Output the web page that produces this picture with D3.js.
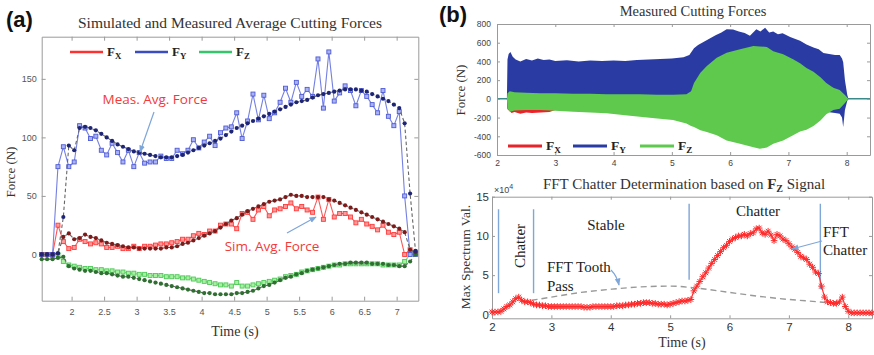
<!DOCTYPE html>
<html><head><meta charset="utf-8">
<script src="https://cdn.jsdelivr.net/npm/d3@7"></script>
<style>body{margin:0;background:#fff}svg{display:block}</style>
</head><body>
<svg id="c" width="874" height="355"></svg>
<script>
// ---------- (a) average cutting forces, sampled every 1/12 s ----------
const timeA = [1.540,1.623,1.707,1.790,1.873,1.957,2.040,2.123,2.207,2.290,2.373,2.457,2.540,2.623,2.707,2.790,2.873,2.957,3.040,3.123,3.207,3.290,3.373,3.457,3.540,3.623,3.707,3.790,3.873,3.957,4.040,4.123,4.207,4.290,4.373,4.457,4.540,4.623,4.707,4.790,4.873,4.957,5.040,5.123,5.207,5.290,5.373,5.457,5.540,5.623,5.707,5.790,5.873,5.957,6.040,6.123,6.207,6.290,6.373,6.457,6.540,6.623,6.707,6.790,6.873,6.957,7.040,7.123,7.207,7.290];
const measFx = [0,0,0,25,11,5,6,13,11,9,10,9,6,6,7,5,5,7,5,7,7,8,9,9,10,11,13,13,16,18,17,20,20,25,26,26,22,35,36,30,38,41,33,38,39,41,44,39,41,38,36,49,30,47,32,35,35,32,27,30,26,24,21,25,19,17,19,0,4,1];
const measFy = [0,0,0,75,92,75,79,110,108,99,101,89,85,95,87,79,89,75,87,78,79,79,84,82,82,89,86,89,98,91,96,101,93,104,108,109,121,99,114,137,115,136,116,121,130,142,130,147,135,141,135,167,125,173,131,138,144,140,127,140,135,128,121,140,118,110,122,50,0,0];
const measFz = [0,0,-1,0,-6,-9,-10,-11,-12,-12,-13,-13,-14,-14,-15,-15,-16,-16,-17,-17,-18,-18,-18,-19,-19,-19,-20,-20,-21,-22,-23,-24,-25,-26,-26,-27,-24,-27,-27,-26,-25,-24,-23,-22,-21,-19,-18,-17,-15,-14,-13,-12,-11,-10,-9,-9,-8,-8,-8,-8,-8,-8,-8,-9,-9,-9,-9,-6,0,2];
const simFx = [0,0,0,1,15,18,13,14,17,15,14,12,10,9,8,7,6,6,5,5,5,5,5,6,6,7,9,10,12,14,16,18,20,23,26,29,31,34,37,39,41,43,45,46,47,49,51,50,50,49,49,49,49,47,46,44,42,40,38,36,34,32,30,28,26,24,22,19,4,2];
const simFy = [0,0,0,1,32,93,89,108,109,108,106,103,100,97,94,92,90,88,87,86,85,84,83,83,83,84,85,87,89,91,93,95,97,99,102,105,108,110,112,114,116,118,120,122,124,126,128,130,131,132,134,136,137,138,139,140,141,141,141,140,139,137,135,133,131,128,125,112,52,3];
const simFz = [-4,-4,-4,-3,-2,-10,-12,-13,-14,-14,-15,-16,-16,-17,-18,-19,-19,-20,-21,-22,-23,-24,-25,-26,-27,-28,-29,-30,-31,-32,-33,-33,-34,-34,-34,-34,-33,-33,-32,-31,-29,-27,-26,-24,-22,-20,-19,-17,-16,-14,-13,-12,-11,-10,-9,-8,-8,-7,-7,-7,-7,-8,-8,-8,-9,-9,-10,-10,-6,0];
const ticksAx = [2,2.5,3,3.5,4,4.5,5,5.5,6,6.5,7];
const ticksAy = [0,50,100,150];

// ---------- (b) measured force envelopes ----------
const fxTime = [2.17,2.18,2.25,2.30,2.40,2.50,2.60,2.75,2.90,3.00,5.00,7.90,7.97,8.02];
const fxHigh = [0,30,40,40,40,40,40,40,40,40,40,40,60,0];
const fxLow  = [0,-110,-150,-140,-160,-145,-150,-145,-140,-120,-120,-100,-60,0];
const fyTime = [2.00,2.17,2.18,2.20,2.23,2.27,2.32,2.40,2.50,2.60,2.70,2.80,2.90,3.00,3.20,3.40,3.60,3.80,4.00,4.20,4.40,4.60,4.80,5.00,5.20,5.30,5.38,5.45,5.55,5.65,5.75,5.85,5.94,6.05,6.15,6.25,6.34,6.45,6.52,6.60,6.67,6.74,6.82,6.90,7.03,7.12,7.20,7.31,7.43,7.52,7.60,7.70,7.80,7.88,7.92,7.94,7.97,8.01,8.03,8.40];
const fyHigh = [0,0,420,480,500,450,420,400,425,410,430,415,420,405,412,400,410,405,410,405,415,420,425,430,445,470,540,575,610,645,680,710,745,740,720,705,675,745,720,760,710,720,690,700,660,640,620,580,550,530,490,480,470,470,430,390,200,40,0,0];
const fyLow  = [0,0,-100,-110,-115,-120,-120,-120,-120,-120,-120,-120,-120,-120,-125,-130,-135,-140,-145,-150,-155,-160,-165,-170,-180,-190,-200,-210,-220,-220,-220,-210,-200,-190,-180,-170,-160,-150,-150,-140,-140,-140,-130,-130,-130,-130,-130,-130,-130,-130,-132,-142,-150,-158,-200,-300,-120,-20,0,0];
const fzTime = [2.00,2.17,2.18,2.22,2.30,2.50,2.74,3.00,3.31,3.60,3.88,4.20,4.45,4.75,5.02,5.25,5.33,5.38,5.49,5.60,5.77,5.94,6.17,6.40,6.51,6.63,6.74,6.91,7.08,7.20,7.31,7.43,7.55,7.65,7.77,7.88,7.97,8.03,8.40];
const fzHigh = [0,0,60,80,70,65,60,60,55,55,50,50,48,45,43,50,80,170,278,350,440,494,530,566,560,555,510,476,422,380,330,290,230,170,120,95,40,0,0];
const fzLow  = [0,0,-100,-137,-125,-120,-120,-128,-137,-145,-155,-175,-191,-210,-227,-263,-290,-300,-336,-354,-390,-444,-480,-516,-534,-520,-480,-444,-390,-350,-330,-290,-230,-165,-120,-105,-45,0,0];
const ticksBx = [2,3,4,5,6,7,8];
const ticksBy = [-600,-400,-200,0,200,400,600,800];

// ---------- (b) FFT max spectrum of F_Z (x10^4), every 0.05 s ----------
const fftTime = [2.00,2.05,2.10,2.15,2.20,2.25,2.30,2.35,2.40,2.45,2.50,2.55,2.60,2.65,2.70,2.75,2.80,2.85,2.90,2.95,3.00,3.05,3.10,3.15,3.20,3.25,3.30,3.35,3.40,3.45,3.50,3.55,3.60,3.65,3.70,3.75,3.80,3.85,3.90,3.95,4.00,4.05,4.10,4.15,4.20,4.25,4.30,4.35,4.40,4.45,4.50,4.55,4.60,4.65,4.70,4.75,4.80,4.85,4.90,4.95,5.00,5.05,5.10,5.15,5.20,5.25,5.30,5.35,5.40,5.45,5.50,5.55,5.60,5.65,5.70,5.75,5.80,5.85,5.90,5.95,6.00,6.05,6.10,6.15,6.20,6.25,6.30,6.35,6.40,6.45,6.50,6.55,6.60,6.65,6.70,6.75,6.80,6.85,6.90,6.95,7.00,7.05,7.10,7.15,7.20,7.25,7.30,7.35,7.40,7.45,7.50,7.55,7.60,7.65,7.70,7.75,7.80,7.85,7.90,7.95,8.00,8.05,8.10,8.15,8.20,8.25,8.30,8.35,8.40];
const fftChatter = [0.3,0.3,0.3,0.4,0.7,1.0,1.2,1.6,2.0,2.2,1.8,1.6,1.6,1.5,1.3,1.2,1.2,1.1,1.1,1.0,1.0,1.0,1.0,1.0,1.0,1.0,1.0,1.0,1.0,1.0,1.0,0.9,0.9,0.9,1.0,1.0,1.0,1.0,1.0,1.0,1.0,1.0,1.1,1.1,1.1,1.2,1.2,1.3,1.3,1.4,1.4,1.5,1.5,1.5,1.4,1.4,1.3,1.3,1.3,1.2,1.3,1.4,1.5,1.6,1.7,1.7,1.8,1.9,3.0,3.6,4.2,4.8,5.3,5.9,6.5,7.0,7.5,8.0,8.5,8.8,9.3,9.6,9.8,10.0,10.0,10.2,10.0,10.3,10.4,10.9,11.0,10.4,10.2,10.6,10.1,9.4,10.2,10.0,9.6,9.4,9.0,8.6,8.3,7.9,7.4,7.2,7.0,6.4,6.0,5.4,5.2,3.6,2.2,1.6,1.5,1.4,1.4,1.6,2.2,1.0,0.4,0.2,0.2,0.2,0.2,0.2,0.2,0.2,0.2];
const toothTime = [2.50,3.00,3.50,4.00,4.50,5.00,5.50,6.00,6.50,7.00,7.50,7.65];
const toothPass = [1.6,2.2,2.8,3.2,3.5,3.6,3.3,2.8,2.3,1.9,1.6,1.5];
const regionTime = [2.11,2.70,5.32,7.53];
const regionTop = [13.4,13.4,14.1,14.1];
const regionBottom = [2.7,2.7,4.4,3.2];
const ticksCx = [2,3,4,5,6,7,8];
const ticksCy = [0,5,10,15];

const svg = d3.select('#c');
svg.append('rect').attr('width', 874).attr('height', 355).attr('fill', '#fff');
const SERIF = '"Liberation Serif", "Times New Roman", serif';
const SANS = '"Liberation Sans", Arial, sans-serif';
const fmt = d => String(d);

// framed axes with inward ticks on all four sides
function frame(g, x, y, xt, yt, o) {
  const [x0, x1] = x.range(), [y0, y1] = y.range();
  const put = (axis, tr, labels) => {
    const a = g.append('g').attr('transform', tr).call(axis.tickSizeInner(-o.tick).tickSizeOuter(0));
    a.select('.domain').attr('stroke', o.stroke);
    a.selectAll('.tick line').attr('stroke', o.stroke);
    a.selectAll('.tick text').attr('fill', o.label).attr('font-family', SANS)
      .attr('font-size', o.fs);
    if (!labels) a.selectAll('.tick text').remove();
  };
  put(d3.axisBottom(x).tickValues(xt).tickFormat(fmt).tickPadding(o.px), `translate(0,${y0})`, true);
  put(d3.axisTop(x).tickValues(xt).tickFormat(fmt), `translate(0,${y1})`, false);
  put(d3.axisLeft(y).tickValues(yt).tickFormat(fmt).tickPadding(o.py), `translate(${x0},0)`, true);
  put(d3.axisRight(y).tickValues(yt).tickFormat(fmt), `translate(${x1},0)`, false);
}

function legendLabel(g, x, y, sub, fs) {
  const t = g.append('text').attr('x', x).attr('y', y).attr('font-family', SERIF)
    .attr('font-weight', 'bold').attr('font-size', fs).attr('fill', '#222');
  t.append('tspan').text('F');
  t.append('tspan').attr('dy', fs * 0.25).attr('font-size', fs * 0.68).text(sub);
}

// arrow marker
const defs = svg.append('defs');
defs.append('marker').attr('id', 'ah').attr('viewBox', '0 0 10 10').attr('refX', 9).attr('refY', 5)
  .attr('markerWidth', 6).attr('markerHeight', 6).attr('orient', 'auto')
  .append('path').attr('d', 'M0,1L10,5L0,9z').attr('fill', '#7ea6d8');

// =============== panel (a) ===============
{
  const g = svg.append('g');
  const x = d3.scaleLinear().domain([1.54, 7.333]).range([41.7, 418.3]);
  const y = d3.scaleLinear().domain([-39.5, 186]).range([300.7, 36.7]);
  g.append('rect').attr('x', 41.7).attr('y', 36.7).attr('width', 376.6).attr('height', 264).attr('fill', '#fff');
  frame(g, x, y, ticksAx, ticksAy, {tick: 4, stroke: '#9a9a9a', label: '#555', fs: 9, px: 8, py: 5});

  const line = vals => d3.line().x((d, i) => x(timeA[i])).y(d => y(d))(vals);
  const meas = [
    {v: measFz, c: '#6fdc6f', f: '#a6f0a0', s: '#4fc85a'},
    {v: measFx, c: '#ff5555', f: '#ff9a9a', s: '#ff3a3a'},
    {v: measFy, c: '#7480e2', f: '#aab2f2', s: '#4e5bd6'}
  ];
  meas.forEach(m => {
    g.append('path').attr('d', line(m.v)).attr('fill', 'none').attr('stroke', m.c).attr('stroke-width', 1.1);
    g.selectAll(null).data(m.v).enter().append('rect')
      .attr('x', (d, i) => x(timeA[i]) - 2).attr('y', d => y(d) - 2)
      .attr('width', 4).attr('height', 4).attr('fill', m.f).attr('stroke', m.s).attr('stroke-width', 0.9);
  });
  const sim = [
    {v: simFz, c: '#2f6f31'},
    {v: simFx, c: '#7d1a1a'},
    {v: simFy, c: '#1d2574'}
  ];
  sim.forEach(s => {
    g.append('path').attr('d', line(s.v)).attr('fill', 'none').attr('stroke', '#666')
      .attr('stroke-width', 1.1).attr('stroke-dasharray', '3.5,2.5');
    g.selectAll(null).data(s.v).enter().append('circle')
      .attr('cx', (d, i) => x(timeA[i])).attr('cy', d => y(d)).attr('r', 2.1).attr('fill', s.c);
  });

  // legend
  [['#ff3030', 70, 'X'], ['#3b4cc0', 135, 'Y'], ['#35c56a', 199, 'Z']].forEach(([c, lx, s]) => {
    g.append('line').attr('x1', lx).attr('x2', lx + 33).attr('y1', 52).attr('y2', 52)
      .attr('stroke', c).attr('stroke-width', 2.5);
    legendLabel(g, lx + 37, 56, s, 13);
  });

  // annotations
  g.append('text').attr('x', 155).attr('y', 104).attr('text-anchor', 'middle').attr('font-family', '"Open Sans", sans-serif')
    .attr('font-size', 13.5).attr('fill', '#f23a3a').text('Meas. Avg. Force');
  g.append('line').attr('x1', 154).attr('y1', 112).attr('x2', 140).attr('y2', 152)
    .attr('stroke', '#7ea6d8').attr('stroke-width', 1.2).attr('marker-end', 'url(#ah)');
  g.append('text').attr('x', 272).attr('y', 251).attr('text-anchor', 'middle').attr('font-family', '"Open Sans", sans-serif')
    .attr('font-size', 13.5).attr('fill', '#f23a3a').text('Sim. Avg. Force');
  g.append('line').attr('x1', 287).attr('y1', 233).attr('x2', 316).attr('y2', 217)
    .attr('stroke', '#7ea6d8').attr('stroke-width', 1.2).attr('marker-end', 'url(#ah)');

  g.append('text').attr('x', 230).attr('y', 28).attr('text-anchor', 'middle').attr('font-family', SERIF)
    .attr('font-size', 15.5).attr('fill', '#333').text('Simulated and Measured Average Cutting Forces');
  g.append('text').attr('x', 235).attr('y', 336).attr('text-anchor', 'middle').attr('font-family', SERIF)
    .attr('font-size', 14).attr('fill', '#333').text('Time (s)');
  g.append('text').attr('transform', 'translate(15,172) rotate(-90)').attr('text-anchor', 'middle')
    .attr('font-family', SERIF).attr('font-size', 13).attr('fill', '#333').text('Force (N)');
  g.append('text').attr('x', 6).attr('y', 27).attr('font-family', SANS).attr('font-weight', 'bold')
    .attr('font-size', 22).attr('fill', '#111').text('(a)');
}

// =============== panel (b) top ===============
{
  const g = svg.append('g');
  const x = d3.scaleLinear().domain([2, 8.4]).range([497, 870]);
  const y = d3.scaleLinear().domain([-600, 800]).range([155, 24]);
  defs.append('clipPath').attr('id', 'clipB').append('rect').attr('x', 497).attr('y', 24).attr('width', 373).attr('height', 131);
  const body = g.append('g').attr('clip-path', 'url(#clipB)');
  body.append('line').attr('x1', x(2)).attr('x2', x(8.4)).attr('y1', y(0)).attr('y2', y(0))
    .attr('stroke', '#3a8a8a').attr('stroke-width', 1.5);
  const band = (t, hi, lo, c) => body.append('path')
    .attr('d', d3.area().x((d, i) => x(t[i])).y0((d, i) => y(lo[i])).y1(d => y(d))(hi))
    .attr('fill', c);
  band(fxTime, fxHigh, fxLow, '#e8232a');
  band(fyTime, fyHigh, fyLow, '#2a3ca4');
  band(fzTime, fzHigh, fzLow, '#5ec94d');
  frame(g, x, y, ticksBx, ticksBy, {tick: 3, stroke: '#9a9a9a', label: '#444', fs: 8.5, px: 5, py: 6});

  [['#e8232a', 508, 'X'], ['#2a3ca4', 573, 'Y'], ['#5ec94d', 640, 'Z']].forEach(([c, lx, s]) => {
    g.append('line').attr('x1', lx).attr('x2', lx + 34).attr('y1', 146).attr('y2', 146)
      .attr('stroke', c).attr('stroke-width', 3);
    legendLabel(g, lx + 38, 150, s, 13.5);
  });

  g.append('text').attr('x', 693).attr('y', 16).attr('text-anchor', 'middle').attr('font-family', SERIF)
    .attr('font-size', 14.5).attr('fill', '#333').text('Measured Cutting Forces');
  g.append('text').attr('transform', 'translate(465,90) rotate(-90)').attr('text-anchor', 'middle')
    .attr('font-family', SERIF).attr('font-size', 13).attr('fill', '#333').text('Force (N)');
  g.append('text').attr('x', 439).attr('y', 22).attr('font-family', SANS).attr('font-weight', 'bold')
    .attr('font-size', 22).attr('fill', '#111').text('(b)');
}

// =============== panel (b) bottom ===============
{
  const g = svg.append('g');
  const x = d3.scaleLinear().domain([2, 8.4]).range([492, 872]);
  const y = d3.scaleLinear().domain([-0.5, 15]).range([318.3, 196.7]);
  frame(g, x, y, ticksCx, ticksCy, {tick: 3, stroke: '#9a9a9a', label: '#333', fs: 11.5, px: 5, py: 3});

  // region separators
  regionTime.forEach((t, i) => {
    g.append('line').attr('x1', x(t)).attr('x2', x(t)).attr('y1', y(regionTop[i])).attr('y2', y(regionBottom[i]))
      .attr('stroke', '#7ea6d8').attr('stroke-width', 1.4);
  });

  g.append('path').attr('d', d3.line().curve(d3.curveMonotoneX).x((d, i) => x(toothTime[i])).y(d => y(d))(toothPass))
    .attr('fill', 'none').attr('stroke', '#999').attr('stroke-width', 1.4).attr('stroke-dasharray', '6,4');

  g.append('path').attr('d', d3.line().x((d, i) => x(fftTime[i])).y(d => y(d))(fftChatter))
    .attr('fill', 'none').attr('stroke', '#ff3030').attr('stroke-width', 1.2);
  const star = 'M-3.3,0H3.3M0,-3.3V3.3M-2.4,-2.4L2.4,2.4M-2.4,2.4L2.4,-2.4';
  g.selectAll(null).data(fftChatter).enter().append('path')
    .attr('transform', (d, i) => `translate(${x(fftTime[i])},${y(d)})`)
    .attr('d', star).attr('stroke', '#ff2a2a').attr('stroke-width', 1).attr('fill', 'none');

  const lab = (tx, ty, s, anchor) => g.append('text').attr('x', tx).attr('y', ty).attr('text-anchor', anchor || 'start')
    .attr('font-family', SERIF).attr('font-size', 15).attr('fill', '#222').text(s);
  g.append('text').attr('transform', 'translate(525,246) rotate(-90)').attr('text-anchor', 'middle')
    .attr('font-family', SERIF).attr('font-size', 15).attr('fill', '#222').text('Chatter');
  lab(606, 230, 'Stable', 'middle');
  lab(758, 216, 'Chatter', 'middle');
  lab(823, 237, 'FFT');
  lab(823, 255, 'Chatter');
  lab(547, 272, 'FFT Tooth');
  lab(547, 291, 'Pass');

  g.append('line').attr('x1', 822).attr('y1', 241).attr('x2', 792).attr('y2', 249)
    .attr('stroke', '#7ea6d8').attr('stroke-width', 1.2).attr('marker-end', 'url(#ah)');
  g.append('path').attr('d', 'M611,270 Q617,276 619,285').attr('fill', 'none')
    .attr('stroke', '#7ea6d8').attr('stroke-width', 1.2).attr('marker-end', 'url(#ah)');

  const tt = g.append('text').attr('x', 684).attr('y', 189).attr('text-anchor', 'middle')
    .attr('font-family', SERIF).attr('font-size', 15).attr('fill', '#333');
  tt.append('tspan').text('FFT Chatter Determination based on ');
  tt.append('tspan').attr('font-weight', 'bold').text('F');
  tt.append('tspan').attr('font-weight', 'bold').attr('font-size', 10).attr('dy', 3).text('Z');
  tt.append('tspan').attr('dy', -3).text(' Signal');

  const ex = g.append('text').attr('x', 494).attr('y', 193).attr('font-family', SANS)
    .attr('font-size', 9).attr('fill', '#444');
  ex.append('tspan').text('\u00d710');
  ex.append('tspan').attr('dy', -4).attr('font-size', 7).text('4');

  g.append('text').attr('x', 682).attr('y', 347).attr('text-anchor', 'middle').attr('font-family', SERIF)
    .attr('font-size', 14).attr('fill', '#333').text('Time (s)');
  g.append('text').attr('transform', 'translate(470,257) rotate(-90)').attr('text-anchor', 'middle')
    .attr('font-family', SERIF).attr('font-size', 13.5).attr('fill', '#333').text('Max Spectrum Val.');
}
</script>
</body></html>
